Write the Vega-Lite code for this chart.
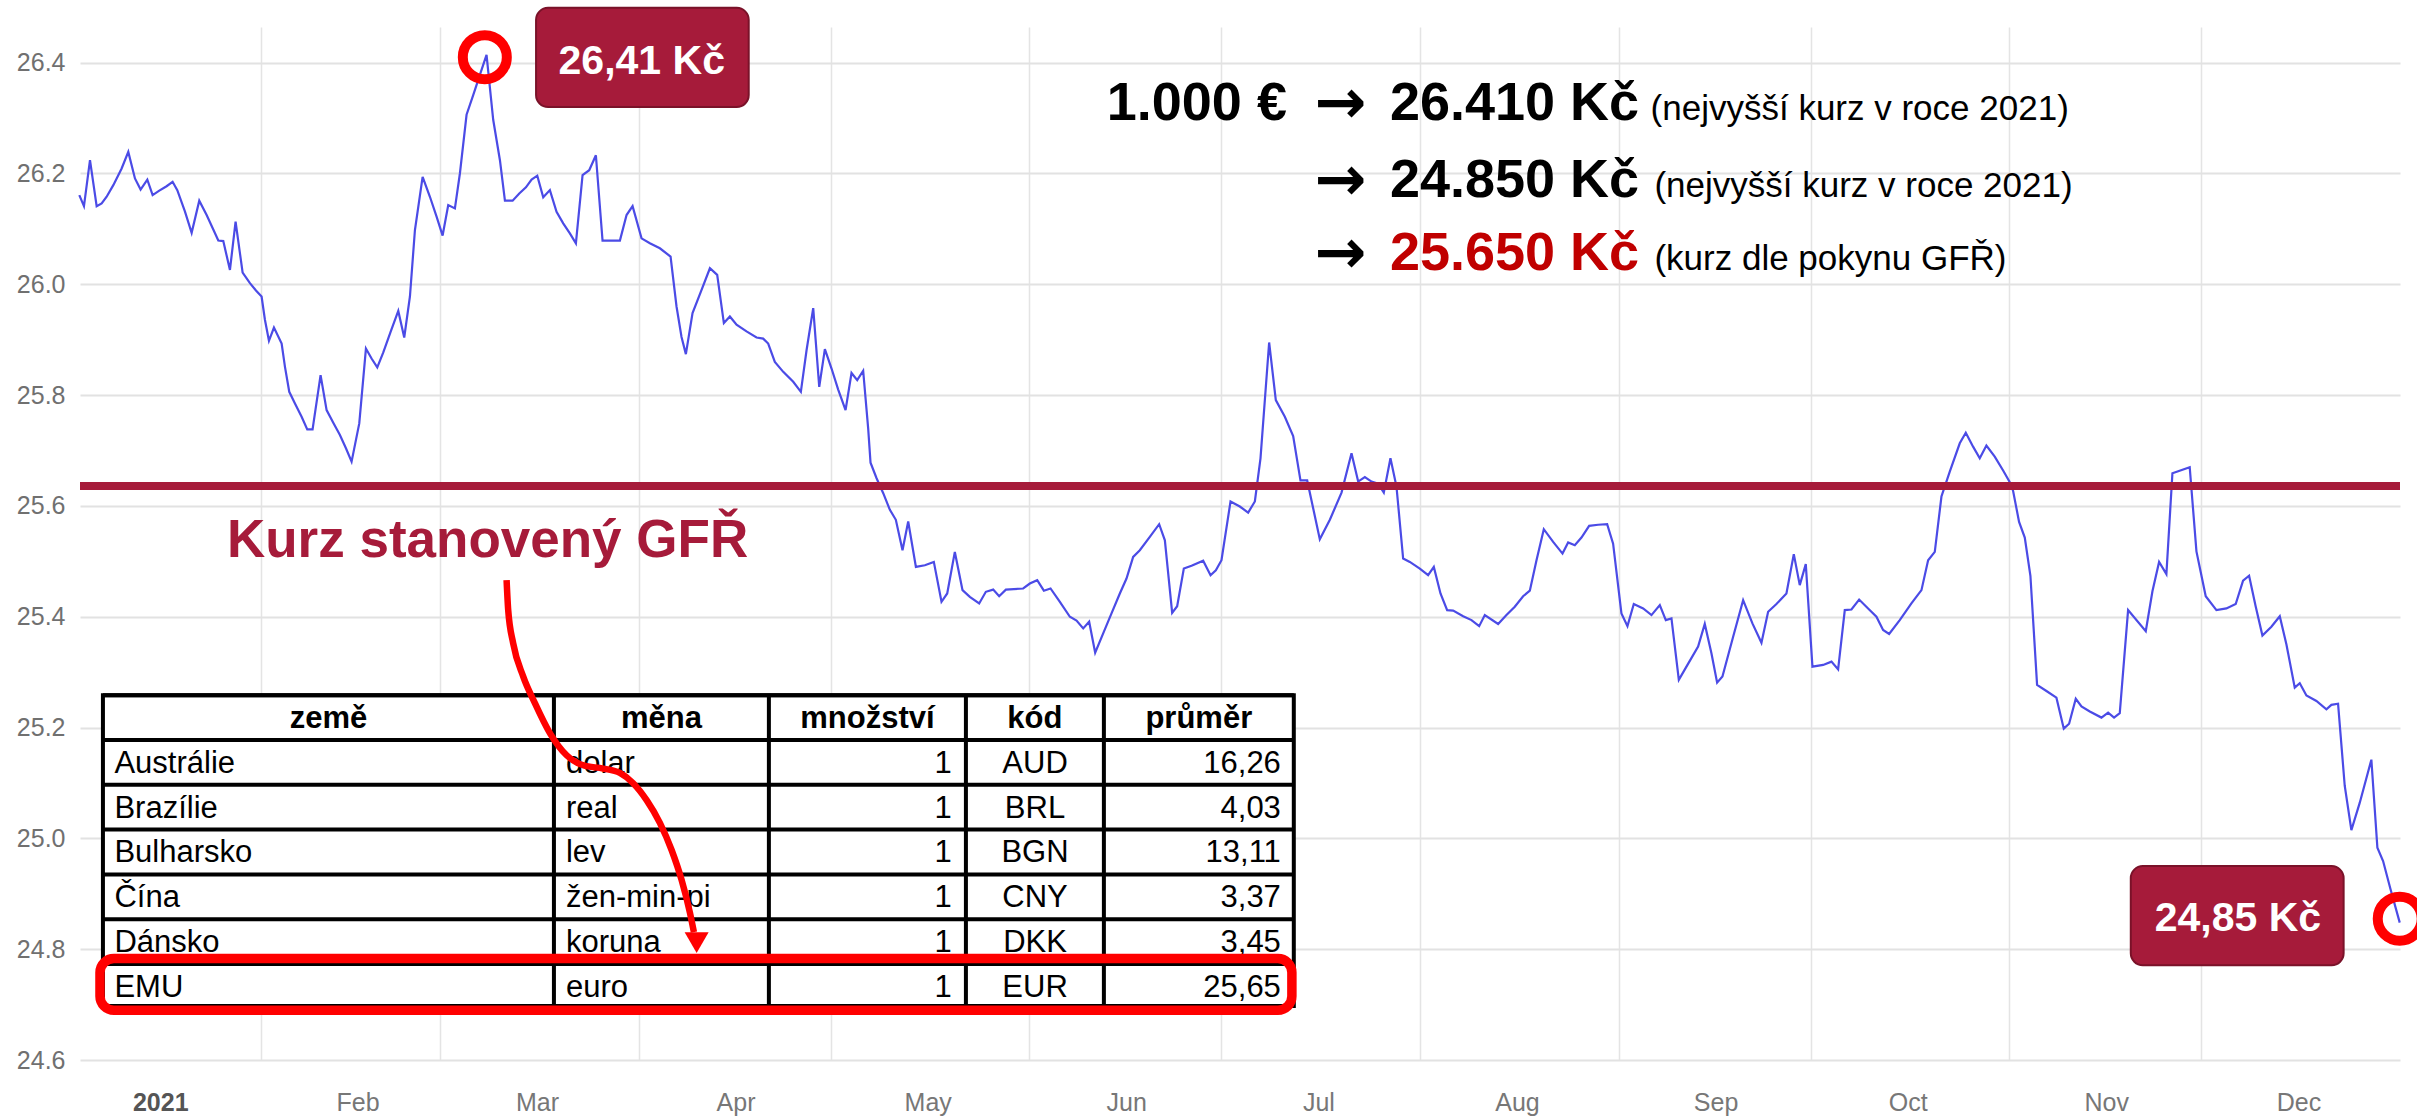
{
  "$schema": "https://vega.github.io/schema/vega-lite/v6.json",
  "width": 2320,
  "height": 1033,
  "autosize": {"type": "none"},
  "padding": {"left": 80, "top": 27, "right": 17, "bottom": 57},
  "background": "white",
  "config": {
    "view": {"stroke": null},
    "axis": {"labelFont": "Liberation Sans", "labelFontSize": 25, "labelColor": "#707070", "domain": false, "ticks": false, "title": null}
  },
  "datasets": {
    "kurz": [
      {"den":2.69,"kurz":26.161},{"den":3.42,"kurz":26.141},{"den":4.36,"kurz":26.224},{"den":5.40,"kurz":26.141},{"den":6.18,"kurz":26.146},{"den":6.96,"kurz":26.158},{"den":8.00,"kurz":26.179},{"den":9.30,"kurz":26.209},{"den":10.34,"kurz":26.239},{"den":11.38,"kurz":26.191},{"den":12.26,"kurz":26.171},{"den":13.31,"kurz":26.189},{"den":14.14,"kurz":26.161},{"den":15.18,"kurz":26.169},{"den":16.32,"kurz":26.177},{"den":17.26,"kurz":26.185},{"den":17.99,"kurz":26.170},{"den":19.19,"kurz":26.131},{"den":20.23,"kurz":26.093},{"den":21.42,"kurz":26.151},{"den":22.57,"kurz":26.125},{"den":23.61,"kurz":26.099},{"den":24.39,"kurz":26.079},{"den":25.17,"kurz":26.078},{"den":26.21,"kurz":26.026},{"den":27.09,"kurz":26.113},{"den":28.19,"kurz":26.021},{"den":29.33,"kurz":26.002},{"den":30.27,"kurz":25.989},{"den":31.15,"kurz":25.978},{"den":31.67,"kurz":25.936},{"den":32.30,"kurz":25.898},{"den":33.08,"kurz":25.922},{"den":34.28,"kurz":25.893},{"den":34.80,"kurz":25.851},{"den":35.47,"kurz":25.806},{"den":36.36,"kurz":25.785},{"den":37.40,"kurz":25.761},{"den":38.28,"kurz":25.738},{"den":39.11,"kurz":25.738},{"den":40.36,"kurz":25.836},{"den":41.30,"kurz":25.773},{"den":42.34,"kurz":25.750},{"den":43.38,"kurz":25.728},{"den":44.32,"kurz":25.704},{"den":45.20,"kurz":25.680},{"den":46.40,"kurz":25.749},{"den":47.44,"kurz":25.884},{"den":48.32,"kurz":25.866},{"den":49.21,"kurz":25.850},{"den":50.15,"kurz":25.877},{"den":51.29,"kurz":25.914},{"den":52.49,"kurz":25.952},{"den":53.42,"kurz":25.904},{"den":54.31,"kurz":25.978},{"den":55.09,"kurz":26.098},{"den":56.29,"kurz":26.194},{"den":57.43,"kurz":26.158},{"den":58.47,"kurz":26.122},{"den":59.41,"kurz":26.088},{"den":60.29,"kurz":26.143},{"den":61.33,"kurz":26.137},{"den":62.11,"kurz":26.200},{"den":63.15,"kurz":26.306},{"den":64.20,"kurz":26.342},{"den":65.23,"kurz":26.378},{"den":66.27,"kurz":26.414},{"den":67.31,"kurz":26.297},{"den":68.36,"kurz":26.224},{"den":69.14,"kurz":26.151},{"den":70.34,"kurz":26.151},{"den":71.38,"kurz":26.164},{"den":72.42,"kurz":26.175},{"den":73.30,"kurz":26.189},{"den":74.19,"kurz":26.196},{"den":75.12,"kurz":26.157},{"den":76.16,"kurz":26.170},
      {"den":77.20,"kurz":26.131},{"den":78.24,"kurz":26.110},{"den":79.28,"kurz":26.092},{"den":80.22,"kurz":26.074},{"den":81.26,"kurz":26.197},{"den":82.30,"kurz":26.206},{"den":83.34,"kurz":26.233},{"den":84.38,"kurz":26.079},{"den":87.09,"kurz":26.079},{"den":88.13,"kurz":26.125},{"den":89.07,"kurz":26.141},{"den":90.47,"kurz":26.083},{"den":91.77,"kurz":26.074},{"den":93.33,"kurz":26.065},{"den":95.00,"kurz":26.050},{"den":95.93,"kurz":25.960},{"den":96.71,"kurz":25.905},{"den":97.39,"kurz":25.874},{"den":98.43,"kurz":25.948},{"den":99.84,"kurz":25.990},{"den":101.14,"kurz":26.029},{"den":102.28,"kurz":26.017},{"den":103.32,"kurz":25.930},{"den":104.26,"kurz":25.942},{"den":105.30,"kurz":25.927},{"den":106.86,"kurz":25.915},{"den":108.42,"kurz":25.904},{"den":109.46,"kurz":25.902},{"den":110.24,"kurz":25.893},{"den":111.28,"kurz":25.860},{"den":112.59,"kurz":25.842},{"den":114.15,"kurz":25.824},{"den":115.34,"kurz":25.806},{"den":116.23,"kurz":25.881},{"den":117.27,"kurz":25.957},{"den":118.21,"kurz":25.815},{"den":119.09,"kurz":25.883},{"den":120.13,"kurz":25.848},{"den":121.17,"kurz":25.810},{"den":122.32,"kurz":25.773},{"den":123.25,"kurz":25.840},{"den":124.14,"kurz":25.827},{"den":125.07,"kurz":25.844},{"den":125.85,"kurz":25.740},{"den":126.22,"kurz":25.678},{"den":127.16,"kurz":25.650},{"den":128.20,"kurz":25.623},{"den":129.24,"kurz":25.593},{"den":130.17,"kurz":25.575},{"den":131.21,"kurz":25.520},{"den":132.10,"kurz":25.572},{"den":133.30,"kurz":25.490},{"den":134.70,"kurz":25.493},{"den":136.10,"kurz":25.499},{"den":137.30,"kurz":25.427},{"den":138.19,"kurz":25.442},{"den":139.38,"kurz":25.517},{"den":140.58,"kurz":25.448},{"den":141.72,"kurz":25.436},{"den":143.18,"kurz":25.424},{"den":144.22,"kurz":25.445},{"den":145.37,"kurz":25.449},{"den":146.30,"kurz":25.437},{"den":147.35,"kurz":25.449},
      {"den":150.05,"kurz":25.451},{"den":151.09,"kurz":25.460},{"den":152.24,"kurz":25.466},{"den":153.28,"kurz":25.447},{"den":154.32,"kurz":25.451},{"den":155.78,"kurz":25.427},{"den":157.34,"kurz":25.400},{"den":158.38,"kurz":25.393},{"den":159.42,"kurz":25.379},{"den":160.35,"kurz":25.391},{"den":161.29,"kurz":25.335},{"den":162.54,"kurz":25.370},{"den":163.84,"kurz":25.406},{"den":165.14,"kurz":25.442},{"den":166.18,"kurz":25.469},{"den":167.22,"kurz":25.508},{"den":168.26,"kurz":25.520},{"den":169.82,"kurz":25.544},{"den":171.28,"kurz":25.567},{"den":172.17,"kurz":25.538},{"den":173.31,"kurz":25.407},{"den":174.09,"kurz":25.419},{"den":175.13,"kurz":25.487},{"den":176.33,"kurz":25.492},{"den":178.15,"kurz":25.501},{"den":179.30,"kurz":25.475},{"den":180.13,"kurz":25.484},{"den":181.01,"kurz":25.502},{"den":182.42,"kurz":25.608},{"den":183.87,"kurz":25.599},{"den":185.17,"kurz":25.588},{"den":186.22,"kurz":25.608},{"den":187.10,"kurz":25.686},{"den":188.45,"kurz":25.895},{"den":189.49,"kurz":25.791},{"den":190.90,"kurz":25.761},{"den":192.20,"kurz":25.726},{"den":193.34,"kurz":25.646},{"den":194.39,"kurz":25.646},{"den":196.36,"kurz":25.540},{"den":197.93,"kurz":25.575},{"den":199.75,"kurz":25.624},{"den":201.31,"kurz":25.695},{"den":202.35,"kurz":25.644},{"den":203.39,"kurz":25.652},{"den":204.43,"kurz":25.644},{"den":205.47,"kurz":25.640},{"den":206.35,"kurz":25.624},{"den":207.39,"kurz":25.686},{"den":208.33,"kurz":25.635},{"den":209.37,"kurz":25.505},{"den":210.41,"kurz":25.499},{"den":211.97,"kurz":25.487},{"den":213.27,"kurz":25.475},{"den":214.16,"kurz":25.490},{"den":215.20,"kurz":25.442},{"den":216.24,"kurz":25.412},{"den":217.18,"kurz":25.411},{"den":218.74,"kurz":25.401},{"den":220.04,"kurz":25.394},{"den":221.24,"kurz":25.383},{"den":222.12,"kurz":25.403},
      {"den":224.20,"kurz":25.387},{"den":225.50,"kurz":25.403},{"den":226.80,"kurz":25.418},{"den":228.10,"kurz":25.437},{"den":229.15,"kurz":25.447},{"den":230.19,"kurz":25.502},{"den":231.33,"kurz":25.558},{"den":232.79,"kurz":25.535},{"den":234.25,"kurz":25.514},{"den":235.13,"kurz":25.534},{"den":236.17,"kurz":25.529},{"den":237.21,"kurz":25.543},{"den":238.41,"kurz":25.564},{"den":239.81,"kurz":25.566},{"den":241.22,"kurz":25.567},{"den":242.15,"kurz":25.532},{"den":243.45,"kurz":25.406},{"den":244.39,"kurz":25.383},{"den":245.38,"kurz":25.423},{"den":246.84,"kurz":25.415},{"den":248.14,"kurz":25.403},{"den":249.44,"kurz":25.421},{"den":250.38,"kurz":25.394},{"den":251.26,"kurz":25.397},{"den":252.41,"kurz":25.286},{"den":253.60,"kurz":25.310},{"den":255.42,"kurz":25.346},{"den":256.46,"kurz":25.387},{"den":257.50,"kurz":25.334},{"den":258.39,"kurz":25.281},{"den":259.22,"kurz":25.292},{"den":260.89,"kurz":25.364},{"den":262.45,"kurz":25.430},{"den":263.90,"kurz":25.388},{"den":265.31,"kurz":25.353},{"den":266.35,"kurz":25.409},{"den":267.65,"kurz":25.423},{"den":269.21,"kurz":25.442},{"den":270.36,"kurz":25.513},{"den":271.29,"kurz":25.457},{"den":272.23,"kurz":25.495},{"den":273.27,"kurz":25.310},{"den":274.94,"kurz":25.313},{"den":276.24,"kurz":25.319},{"den":277.28,"kurz":25.305},{"den":278.32,"kurz":25.412},{"den":279.36,"kurz":25.413},{"den":280.56,"kurz":25.431},{"den":281.96,"kurz":25.415},{"den":283.26,"kurz":25.400},{"den":284.30,"kurz":25.376},{"den":285.24,"kurz":25.369},{"den":286.90,"kurz":25.394},{"den":288.72,"kurz":25.424},{"den":290.29,"kurz":25.448},{"den":291.33,"kurz":25.502},{"den":292.37,"kurz":25.517},{"den":293.41,"kurz":25.617},{"den":294.71,"kurz":25.662},{"den":296.27,"kurz":25.713},
      {"den":297.21,"kurz":25.732},{"den":298.35,"kurz":25.707},{"den":299.39,"kurz":25.686},{"den":300.43,"kurz":25.709},{"den":301.73,"kurz":25.689},{"den":303.04,"kurz":25.664},{"den":304.08,"kurz":25.643},{"den":304.60,"kurz":25.627},{"den":305.53,"kurz":25.571},{"den":306.42,"kurz":25.543},{"den":307.30,"kurz":25.474},{"den":308.34,"kurz":25.277},{"den":309.80,"kurz":25.266},{"den":311.36,"kurz":25.254},{"den":312.51,"kurz":25.198},{"den":313.34,"kurz":25.207},{"den":314.38,"kurz":25.252},{"den":315.27,"kurz":25.238},{"den":316.57,"kurz":25.229},{"den":318.39,"kurz":25.218},{"den":319.43,"kurz":25.227},{"den":320.36,"kurz":25.218},{"den":321.25,"kurz":25.226},{"den":322.55,"kurz":25.412},{"den":325.31,"kurz":25.374},{"den":326.35,"kurz":25.446},{"den":327.39,"kurz":25.499},{"den":328.53,"kurz":25.477},{"den":329.47,"kurz":25.659},{"den":332.17,"kurz":25.670},{"den":333.22,"kurz":25.518},{"den":334.67,"kurz":25.437},{"den":336.34,"kurz":25.412},{"den":337.90,"kurz":25.415},{"den":339.35,"kurz":25.423},{"den":340.50,"kurz":25.465},{"den":341.44,"kurz":25.474},{"den":342.48,"kurz":25.418},{"den":343.52,"kurz":25.366},{"den":344.92,"kurz":25.382},{"den":346.23,"kurz":25.401},{"den":347.27,"kurz":25.350},{"den":348.57,"kurz":25.272},{"den":349.35,"kurz":25.280},{"den":350.39,"kurz":25.258},{"den":351.95,"kurz":25.248},{"den":353.51,"kurz":25.233},{"den":354.29,"kurz":25.241},{"den":355.33,"kurz":25.243},{"den":356.37,"kurz":25.095},{"den":357.41,"kurz":25.015},{"den":358.71,"kurz":25.064},{"den":360.53,"kurz":25.142},{"den":361.47,"kurz":24.983},{"den":362.36,"kurz":24.959},{"den":363.50,"kurz":24.909},{"den":364.96,"kurz":24.848}
    ],
    "tabulka": [
      {"poradi":0,"zeme":"země","mena":"měna","mnozstvi":"množství","kod":"kód","prumer":"průměr"},
      {"poradi":1,"zeme":"Austrálie","mena":"dolar","mnozstvi":"1","kod":"AUD","prumer":"16,26"},
      {"poradi":2,"zeme":"Brazílie","mena":"real","mnozstvi":"1","kod":"BRL","prumer":"4,03"},
      {"poradi":3,"zeme":"Bulharsko","mena":"lev","mnozstvi":"1","kod":"BGN","prumer":"13,11"},
      {"poradi":4,"zeme":"Čína","mena":"žen-min-pi","mnozstvi":"1","kod":"CNY","prumer":"3,37"},
      {"poradi":5,"zeme":"Dánsko","mena":"koruna","mnozstvi":"1","kod":"DKK","prumer":"3,45"},
      {"poradi":6,"zeme":"EMU","mena":"euro","mnozstvi":"1","kod":"EUR","prumer":"25,65"}
    ],
    "sipka": [
      {"den":69.40,"kurz":25.466},{"den":69.65,"kurz":25.412},{"den":70.43,"kurz":25.352},{"den":72.00,"kurz":25.292},{"den":73.82,"kurz":25.244},{"den":76.16,"kurz":25.190},{"den":78.77,"kurz":25.150},{"den":81.36,"kurz":25.132},{"den":84.48,"kurz":25.126},{"den":87.09,"kurz":25.118},{"den":89.12,"kurz":25.100},{"den":91.26,"kurz":25.069},{"den":93.33,"kurz":25.028},{"den":95.16,"kurz":24.979},{"den":96.72,"kurz":24.925},{"den":98.02,"kurz":24.866},{"den":98.64,"kurz":24.831}
    ]
  },
  "resolve": {"scale": {"y": "independent"}},
  "layer": [
    {
      "layer": [
        {
          "data": {"name": "kurz"},
          "mark": {"type": "line", "color": "#4b4be6", "strokeWidth": 2.2},
          "encoding": {
            "x": {"field": "den", "type": "quantitative",
              "scale": {"domain": [2.8, 365], "nice": false, "zero": false},
              "axis": {
                "values": [3,31,59,90,120,151,181,212,243,273,304,334],
                "labelExpr": "datum.value < 10 ? '2021' : ['Feb','Mar','Apr','May','Jun','Jul','Aug','Sep','Oct','Nov','Dec'][indexof([31,59,90,120,151,181,212,243,273,304,334], datum.value)]",
                "labelOffset": {"condition": {"test": "datum.value < 10", "value": 79}, "value": 97},
                "labelPadding": 30, "labelFlush": false, "labelOverlap": false, "labelAlign": "center",
                "grid": true, "gridColor": "#e4e4e4", "gridWidth": 1.5,
                "gridOpacity": {"condition": {"test": "datum.value < 10", "value": 0}, "value": 1},
                "labelFontWeight": {"condition": {"test": "datum.value < 10", "value": "bold"}, "value": "normal"},
                "labelColor": {"condition": {"test": "datum.value < 10", "value": "#555555"}, "value": "#777777"}
              }},
            "y": {"field": "kurz", "type": "quantitative",
              "scale": {"domain": [24.6, 26.4644], "nice": false, "zero": false},
              "axis": {"values": [24.6,24.8,25.0,25.2,25.4,25.6,25.8,26.0,26.2,26.4], "format": ".1f", "labelPadding": 15, "grid": true, "gridColor": "#e2e2e2", "gridWidth": 2}}
          }
        },
        {
          "data": {"values": [{"kurz_gfr": 25.636}]},
          "mark": {"type": "rule", "color": "#a61b3a", "strokeWidth": 8},
          "encoding": {"y": {"field": "kurz_gfr", "type": "quantitative"}}
        },
        {
          "data": {"values": [{"popisek": "Kurz stanovený GFŘ"}]},
          "mark": {"type": "text", "font": "Liberation Sans", "fontWeight": "bold", "fontSize": 53, "color": "#a61b3a", "align": "left", "baseline": "alphabetic"},
          "encoding": {"x": {"datum": 25.74}, "y": {"datum": 25.508}, "text": {"field": "popisek"}}
        },
        {
          "data": {"values": [{"popisek": "1.000 €"}]},
          "mark": {"type": "text", "font": "Liberation Sans", "fontWeight": "bold", "fontSize": 54, "color": "#000000", "align": "left", "baseline": "alphabetic"},
          "encoding": {"x": {"datum": 163.1}, "y": {"datum": 26.297}, "text": {"field": "popisek"}}
        },
        {
          "data": {"values": [{"popisek": "→"}]},
          "mark": {"type": "text", "font": "DejaVu Sans", "fontWeight": "bold", "fontSize": 62, "color": "#000000", "align": "center", "baseline": "alphabetic"},
          "encoding": {"x": {"datum": 199.6}, "y": {"datum": 26.292}, "text": {"field": "popisek"}}
        },
        {
          "data": {"values": [{"popisek": "→"}]},
          "mark": {"type": "text", "font": "DejaVu Sans", "fontWeight": "bold", "fontSize": 62, "color": "#000000", "align": "center", "baseline": "alphabetic"},
          "encoding": {"x": {"datum": 199.6}, "y": {"datum": 26.153}, "text": {"field": "popisek"}}
        },
        {
          "data": {"values": [{"popisek": "→"}]},
          "mark": {"type": "text", "font": "DejaVu Sans", "fontWeight": "bold", "fontSize": 62, "color": "#000000", "align": "center", "baseline": "alphabetic"},
          "encoding": {"x": {"datum": 199.6}, "y": {"datum": 26.020}, "text": {"field": "popisek"}}
        },
        {
          "data": {"values": [{"popisek": "26.410 Kč"}]},
          "mark": {"type": "text", "font": "Liberation Sans", "fontWeight": "bold", "fontSize": 54, "color": "#000000", "align": "left", "baseline": "alphabetic"},
          "encoding": {"x": {"datum": 207.3}, "y": {"datum": 26.297}, "text": {"field": "popisek"}}
        },
        {
          "data": {"values": [{"popisek": "24.850 Kč"}]},
          "mark": {"type": "text", "font": "Liberation Sans", "fontWeight": "bold", "fontSize": 54, "color": "#000000", "align": "left", "baseline": "alphabetic"},
          "encoding": {"x": {"datum": 207.3}, "y": {"datum": 26.158}, "text": {"field": "popisek"}}
        },
        {
          "data": {"values": [{"popisek": "25.650 Kč"}]},
          "mark": {"type": "text", "font": "Liberation Sans", "fontWeight": "bold", "fontSize": 54, "color": "#c00000", "align": "left", "baseline": "alphabetic"},
          "encoding": {"x": {"datum": 207.3}, "y": {"datum": 26.025}, "text": {"field": "popisek"}}
        },
        {
          "data": {"values": [{"popisek": "(nejvyšší kurz v roce 2021)"}]},
          "mark": {"type": "text", "font": "Liberation Sans", "fontSize": 35, "color": "#000000", "align": "left", "baseline": "alphabetic"},
          "encoding": {"x": {"datum": 248.0}, "y": {"datum": 26.297}, "text": {"field": "popisek"}}
        },
        {
          "data": {"values": [{"popisek": "(nejvyšší kurz v roce 2021)"}]},
          "mark": {"type": "text", "font": "Liberation Sans", "fontSize": 35, "color": "#000000", "align": "left", "baseline": "alphabetic"},
          "encoding": {"x": {"datum": 248.6}, "y": {"datum": 26.158}, "text": {"field": "popisek"}}
        },
        {
          "data": {"values": [{"popisek": "(kurz dle pokynu GFŘ)"}]},
          "mark": {"type": "text", "font": "Liberation Sans", "fontSize": 35, "color": "#000000", "align": "left", "baseline": "alphabetic"},
          "encoding": {"x": {"datum": 248.6}, "y": {"datum": 26.025}, "text": {"field": "popisek"}}
        }
      ]
    },
    {
      "layer": [
        {
          "data": {"values": [{"tabulka": "kurzy ČNB"}]},
          "mark": {"type": "rect", "fill": "#ffffff", "stroke": "#000000", "strokeWidth": 4},
          "encoding": {
            "x": {"datum": 6.38}, "x2": {"datum": 192.3},
            "y": {"datum": 0, "type": "quantitative", "scale": {"domain": [-14.915, 8.143], "reverse": true, "nice": false, "zero": false}, "axis": null},
            "y2": {"datum": 6.94}
          }
        },
        {
          "data": {"name": "tabulka"},
          "mark": {"type": "rule", "color": "#000000", "strokeWidth": 4},
          "encoding": {"x": {"datum": 6.38}, "x2": {"datum": 192.3}, "y": {"field": "poradi", "type": "quantitative", "axis": null}}
        },
        {
          "data": {"values": [{"sloupec": 1}]},
          "mark": {"type": "rule", "color": "#000000", "strokeWidth": 4},
          "encoding": {"x": {"datum": 76.79}, "y": {"datum": 0, "axis": null}, "y2": {"datum": 6.94}}
        },
        {
          "data": {"values": [{"sloupec": 2}]},
          "mark": {"type": "rule", "color": "#000000", "strokeWidth": 4},
          "encoding": {"x": {"datum": 110.35}, "y": {"datum": 0, "axis": null}, "y2": {"datum": 6.94}}
        },
        {
          "data": {"values": [{"sloupec": 3}]},
          "mark": {"type": "rule", "color": "#000000", "strokeWidth": 4},
          "encoding": {"x": {"datum": 141.11}, "y": {"datum": 0, "axis": null}, "y2": {"datum": 6.94}}
        },
        {
          "data": {"values": [{"sloupec": 4}]},
          "mark": {"type": "rule", "color": "#000000", "strokeWidth": 4},
          "encoding": {"x": {"datum": 162.65}, "y": {"datum": 0, "axis": null}, "y2": {"datum": 6.94}}
        },
        {
          "data": {"name": "tabulka"},
          "transform": [{"filter": "datum.poradi == 0"}],
          "mark": {"type": "text", "font": "Liberation Sans", "fontWeight": "bold", "fontSize": 31, "color": "#000000", "align": "center", "baseline": "alphabetic", "dy": 32.8},
          "encoding": {"x": {"datum": 41.59}, "y": {"field": "poradi", "type": "quantitative", "axis": null}, "text": {"field": "zeme"}}
        },
        {
          "data": {"name": "tabulka"},
          "transform": [{"filter": "datum.poradi == 0"}],
          "mark": {"type": "text", "font": "Liberation Sans", "fontWeight": "bold", "fontSize": 31, "color": "#000000", "align": "center", "baseline": "alphabetic", "dy": 32.8},
          "encoding": {"x": {"datum": 93.57}, "y": {"field": "poradi", "type": "quantitative", "axis": null}, "text": {"field": "mena"}}
        },
        {
          "data": {"name": "tabulka"},
          "transform": [{"filter": "datum.poradi == 0"}],
          "mark": {"type": "text", "font": "Liberation Sans", "fontWeight": "bold", "fontSize": 31, "color": "#000000", "align": "center", "baseline": "alphabetic", "dy": 32.8},
          "encoding": {"x": {"datum": 125.73}, "y": {"field": "poradi", "type": "quantitative", "axis": null}, "text": {"field": "mnozstvi"}}
        },
        {
          "data": {"name": "tabulka"},
          "transform": [{"filter": "datum.poradi == 0"}],
          "mark": {"type": "text", "font": "Liberation Sans", "fontWeight": "bold", "fontSize": 31, "color": "#000000", "align": "center", "baseline": "alphabetic", "dy": 32.8},
          "encoding": {"x": {"datum": 151.87}, "y": {"field": "poradi", "type": "quantitative", "axis": null}, "text": {"field": "kod"}}
        },
        {
          "data": {"name": "tabulka"},
          "transform": [{"filter": "datum.poradi == 0"}],
          "mark": {"type": "text", "font": "Liberation Sans", "fontWeight": "bold", "fontSize": 31, "color": "#000000", "align": "center", "baseline": "alphabetic", "dy": 32.8},
          "encoding": {"x": {"datum": 177.47}, "y": {"field": "poradi", "type": "quantitative", "axis": null}, "text": {"field": "prumer"}}
        },
        {
          "data": {"name": "tabulka"},
          "transform": [{"filter": "datum.poradi > 0"}],
          "mark": {"type": "text", "font": "Liberation Sans", "fontSize": 31, "color": "#000000", "align": "left", "baseline": "alphabetic", "dy": 32.8},
          "encoding": {"x": {"datum": 8.17}, "y": {"field": "poradi", "type": "quantitative", "axis": null}, "text": {"field": "zeme"}}
        },
        {
          "data": {"name": "tabulka"},
          "transform": [{"filter": "datum.poradi > 0"}],
          "mark": {"type": "text", "font": "Liberation Sans", "fontSize": 31, "color": "#000000", "align": "left", "baseline": "alphabetic", "dy": 32.8},
          "encoding": {"x": {"datum": 78.66}, "y": {"field": "poradi", "type": "quantitative", "axis": null}, "text": {"field": "mena"}}
        },
        {
          "data": {"name": "tabulka"},
          "transform": [{"filter": "datum.poradi > 0"}],
          "mark": {"type": "text", "font": "Liberation Sans", "fontSize": 31, "color": "#000000", "align": "right", "baseline": "alphabetic", "dy": 32.8},
          "encoding": {"x": {"datum": 138.9}, "y": {"field": "poradi", "type": "quantitative", "axis": null}, "text": {"field": "mnozstvi"}}
        },
        {
          "data": {"name": "tabulka"},
          "transform": [{"filter": "datum.poradi > 0"}],
          "mark": {"type": "text", "font": "Liberation Sans", "fontSize": 31, "color": "#000000", "align": "center", "baseline": "alphabetic", "dy": 32.8},
          "encoding": {"x": {"datum": 151.9}, "y": {"field": "poradi", "type": "quantitative", "axis": null}, "text": {"field": "kod"}}
        },
        {
          "data": {"name": "tabulka"},
          "transform": [{"filter": "datum.poradi > 0"}],
          "mark": {"type": "text", "font": "Liberation Sans", "fontSize": 31, "color": "#000000", "align": "right", "baseline": "alphabetic", "dy": 32.8},
          "encoding": {"x": {"datum": 190.28}, "y": {"field": "poradi", "type": "quantitative", "axis": null}, "text": {"field": "prumer"}}
        }
      ]
    },
    {
      "layer": [
        {
          "data": {"values": [{"zvyrazneni": "EMU"}]},
          "mark": {"type": "rect", "fill": "#ffffff", "fillOpacity": 0, "stroke": "#ff0000", "strokeWidth": 9.5, "cornerRadius": 14},
          "encoding": {"x": {"datum": 5.92}, "x2": {"datum": 192.0}, "y": {"datum": 24.783, "type": "quantitative", "scale": {"domain": [24.6, 26.4644], "nice": false, "zero": false}, "axis": null}, "y2": {"datum": 24.690}}
        },
        {
          "data": {"name": "sipka"},
          "mark": {"type": "line", "color": "#ff0000", "strokeWidth": 6.5, "interpolate": "monotone"},
          "encoding": {"x": {"field": "den", "type": "quantitative"}, "y": {"field": "kurz", "type": "quantitative", "axis": null}}
        },
        {
          "data": {"values": [{"den": 99.07, "kurz": 24.812}]},
          "mark": {"type": "point", "shape": "triangle-down", "filled": true, "color": "#ff0000", "size": 576, "opacity": 1},
          "encoding": {"x": {"field": "den", "type": "quantitative"}, "y": {"field": "kurz", "type": "quantitative", "axis": null}}
        },
        {
          "data": {"values": [{"den": 66.0, "kurz": 26.41}, {"den": 364.96, "kurz": 24.855}]},
          "mark": {"type": "point", "shape": "circle", "filled": false, "stroke": "#ff0000", "strokeWidth": 10, "size": 1936, "opacity": 1},
          "encoding": {"x": {"field": "den", "type": "quantitative"}, "y": {"field": "kurz", "type": "quantitative", "axis": null}}
        },
        {
          "data": {"values": [{"popisek": "26,41 Kč"}]},
          "mark": {"type": "rect", "fill": "#a61b3a", "stroke": "#7a1229", "strokeWidth": 2, "cornerRadius": 12},
          "encoding": {"x": {"datum": 74.0}, "x2": {"datum": 107.2}, "y": {"datum": 26.499, "axis": null}, "y2": {"datum": 26.320}}
        },
        {
          "data": {"values": [{"popisek": "26,41 Kč"}]},
          "mark": {"type": "text", "font": "Liberation Sans", "fontWeight": "bold", "fontSize": 41, "color": "#ffffff", "align": "center", "baseline": "alphabetic"},
          "encoding": {"x": {"datum": 90.5}, "y": {"datum": 26.379, "axis": null}, "text": {"field": "popisek"}}
        },
        {
          "data": {"values": [{"popisek": "24,85 Kč"}]},
          "mark": {"type": "rect", "fill": "#a61b3a", "stroke": "#7a1229", "strokeWidth": 2, "cornerRadius": 12},
          "encoding": {"x": {"datum": 322.97}, "x2": {"datum": 356.2}, "y": {"datum": 24.950, "axis": null}, "y2": {"datum": 24.771}}
        },
        {
          "data": {"values": [{"popisek": "24,85 Kč"}]},
          "mark": {"type": "text", "font": "Liberation Sans", "fontWeight": "bold", "fontSize": 41, "color": "#ffffff", "align": "center", "baseline": "alphabetic"},
          "encoding": {"x": {"datum": 339.7}, "y": {"datum": 24.832, "axis": null}, "text": {"field": "popisek"}}
        }
      ]
    }
  ]
}
